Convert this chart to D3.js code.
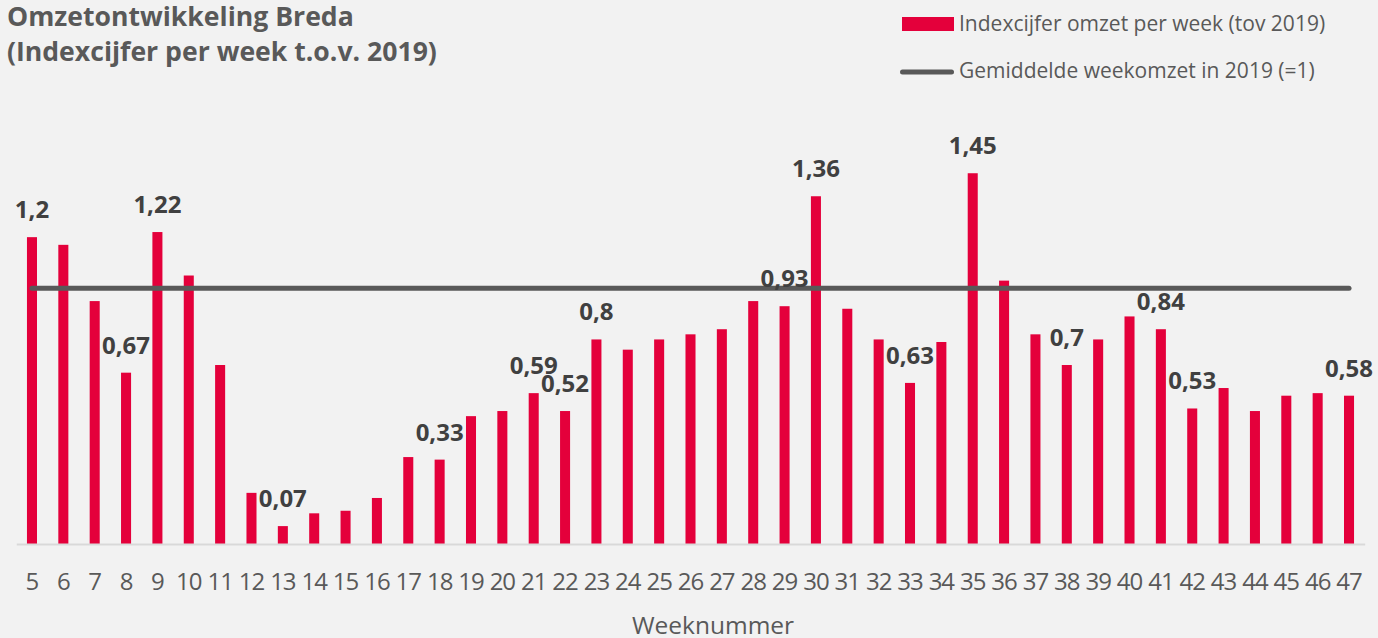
<!DOCTYPE html>
<html>
<head>
<meta charset="utf-8">
<script src="https://cdn.jsdelivr.net/npm/d3@7"></script>
<style>
  body { margin: 0; background: #f2f2f2; }
  #chart { width: 1378px; height: 638px; }
  text { font-family: "Open Sans", sans-serif; }
</style>
</head>
<body>
<div id="chart"></div>
<script>
// weeks and index values
var weeks = [5, 6, 7, 8, 9, 10, 11, 12, 13, 14, 15, 16, 17, 18, 19, 20, 21, 22, 23, 24, 25, 26,
             27, 28, 29, 30, 31, 32, 33, 34, 35, 36, 37, 38, 39, 40, 41, 42, 43, 44, 45, 46, 47];
var index = [1.2, 1.17, 0.95, 0.67, 1.22, 1.05, 0.7, 0.2, 0.07, 0.12, 0.13, 0.18, 0.34, 0.33,
             0.5, 0.52, 0.59, 0.52, 0.8, 0.76, 0.8, 0.82, 0.84, 0.95, 0.93, 1.36, 0.92, 0.8,
             0.63, 0.79, 1.45, 1.03, 0.82, 0.7, 0.8, 0.89, 0.84, 0.53, 0.61, 0.52, 0.58, 0.59, 0.58];
// weeks that carry a data label
var labeledWeeks = [5, 8, 9, 13, 18, 21, 22, 23, 29, 30, 33, 35, 38, 41, 42, 47];
var reference = 1;

var titleLines = ["Omzetontwikkeling Breda", "(Indexcijfer per week t.o.v. 2019)"];
var legendLabels = ["Indexcijfer omzet per week (tov 2019)", "Gemiddelde weekomzet in 2019 (=1)"];

var width = 1378, height = 638;
var barColor = "#e4003b", lineColor = "#595959";

var data = weeks.map(function(w, i) { return {week: w, value: index[i]}; });

var svg = d3.select("#chart").append("svg")
    .attr("width", width)
    .attr("height", height);

svg.append("rect")
    .attr("width", width)
    .attr("height", height)
    .attr("fill", "#f2f2f2");

// scales
var x = d3.scaleBand().domain(weeks).range([16.3, 1364.7]).paddingInner(0.68).paddingOuter(0.34);
var y = d3.scaleLinear().domain([0, 1.6]).range([544, 544 - 255.7 * 1.6]);

// bars
svg.selectAll(".bar")
    .data(data)
    .enter().append("rect")
    .attr("class", "bar")
    .attr("x", function(d) { return x(d.week); })
    .attr("y", function(d) { return y(d.value); })
    .attr("width", x.bandwidth())
    .attr("height", function(d) { return y(0) - y(d.value); })
    .attr("fill", barColor);

// x axis
var xAxis = d3.axisBottom(x).tickSize(0).tickSizeOuter(0).tickPadding(29);
var gx = svg.append("g")
    .attr("class", "x axis")
    .attr("transform", "translate(0," + y(0) + ")")
    .call(xAxis);
gx.select(".domain")
    .attr("stroke", "#d9d9d9")
    .attr("stroke-width", 2);
gx.selectAll("text")
    .attr("fill", "#595959")
    .style("font-family", "Open Sans")
    .style("font-size", "24px")
    .style("letter-spacing", "-1px");

// reference line at 1
var half = x.bandwidth() / 2;
svg.append("line")
    .attr("x1", x(weeks[0]) + half)
    .attr("x2", x(weeks[weeks.length - 1]) + half)
    .attr("y1", y(reference))
    .attr("y2", y(reference))
    .attr("stroke", lineColor)
    .attr("stroke-width", 5)
    .attr("stroke-linecap", "round");

// data labels
svg.selectAll(".label")
    .data(data.filter(function(d) { return labeledWeeks.indexOf(d.week) >= 0; }))
    .enter().append("text")
    .attr("class", "label")
    .attr("x", function(d) { return x(d.week) + half; })
    .attr("y", function(d) { return y(d.value) - 19; })
    .attr("text-anchor", "middle")
    .attr("fill", "#404040")
    .style("font-size", "24px")
    .style("font-weight", "bold")
    .text(function(d) { return String(d.value).replace(".", ","); });

// title
svg.selectAll(".title")
    .data(titleLines)
    .enter().append("text")
    .attr("class", "title")
    .attr("x", 7)
    .attr("y", function(d, i) { return 26 + i * 35; })
    .attr("fill", "#595959")
    .style("font-size", "26.6px")
    .style("font-weight", "bold")
    .text(function(d) { return d; });

// axis title
svg.append("text")
    .attr("x", 713)
    .attr("y", 634)
    .attr("text-anchor", "middle")
    .attr("fill", "#595959")
    .style("font-size", "24.5px")
    .text("Weeknummer");

// legend
svg.append("rect")
    .attr("x", 902)
    .attr("y", 17)
    .attr("width", 52)
    .attr("height", 14)
    .attr("fill", barColor);
svg.append("line")
    .attr("x1", 902.5)
    .attr("x2", 951.5)
    .attr("y1", 72)
    .attr("y2", 72)
    .attr("stroke", lineColor)
    .attr("stroke-width", 5)
    .attr("stroke-linecap", "round");
svg.selectAll(".legend")
    .data(legendLabels)
    .enter().append("text")
    .attr("class", "legend")
    .attr("x", 959)
    .attr("y", function(d, i) { return 31 + i * 47; })
    .attr("fill", "#595959")
    .style("font-size", "21px")
    .text(function(d) { return d; });
</script>
</body>
</html>
